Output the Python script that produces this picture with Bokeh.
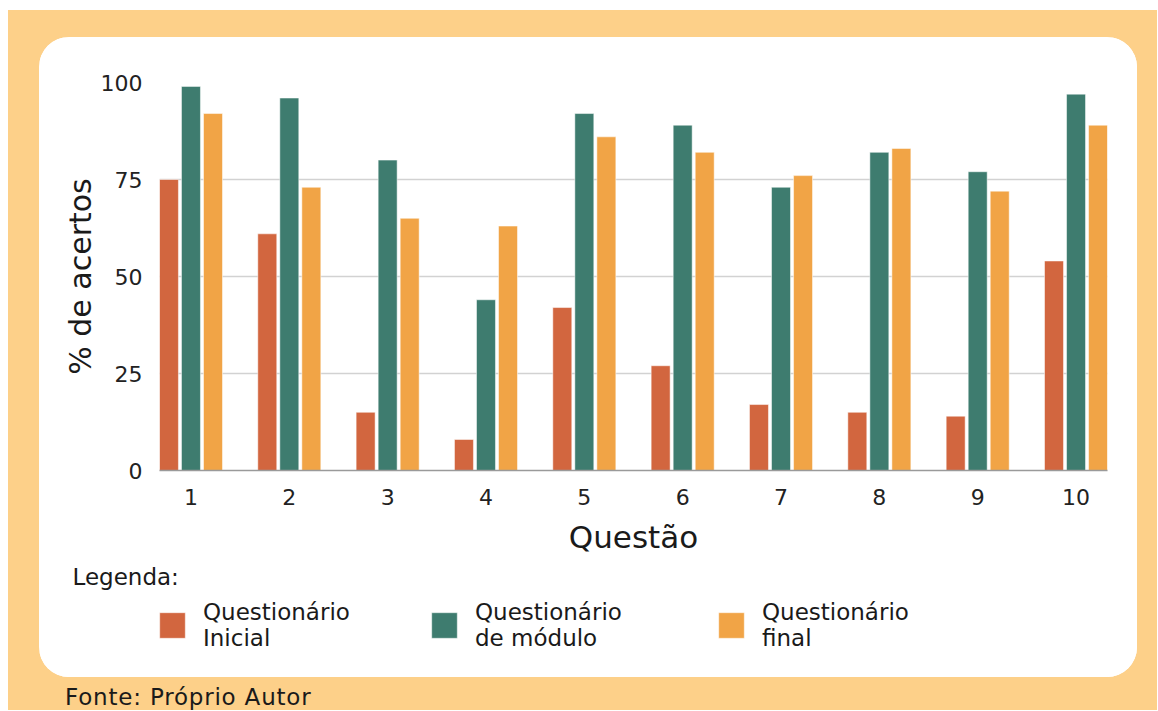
from bokeh.plotting import figure
from bokeh.models import (ColumnDataSource, FixedTicker, Legend, LegendItem,
                          Range1d, Title, Div, Column)
from bokeh.transform import dodge
from bokeh.embed import file_html
from bokeh.resources import INLINE

questoes = [1, 2, 3, 4, 5, 6, 7, 8, 9, 10]
inicial = [75, 61, 15, 8, 42, 27, 17, 15, 14, 54]
modulo = [99, 96, 80, 44, 92, 89, 73, 82, 77, 97]
final = [92, 73, 65, 63, 86, 82, 76, 83, 72, 89]
y_ticks = [0, 25, 50, 75, 100]
series_cols = ["inicial", "modulo", "final"]
series_labels = ["Questionário\nInicial", "Questionário\nde módulo", "Questionário\nfinal"]
series_colors = ["#D2663F", "#3E7C6F", "#F1A446"]

C_BG = "#FDD089"
FONT_W = "DejaVu Sans"
TXT = "#1a1a1a"

src = ColumnDataSource(dict(q=questoes, inicial=inicial, modulo=modulo, final=final))
offsets = [-0.224, 0.0, 0.224]
bw = 0.193

# ---- main chart -------------------------------------------------------
p = figure(width=1098, height=558, output_backend="svg", toolbar_location=None,
           x_range=Range1d(0.68, 10.32), y_range=Range1d(0, 100),
           min_border_left=120, min_border_right=30, min_border_top=45,
           min_border_bottom=125)
p.border_fill_color = "white"
p.background_fill_color = "white"
p.outline_line_color = None

for col, off, c in zip(series_cols, offsets, series_colors):
    p.vbar(x=dodge("q", off), top=col, width=bw, source=src,
           fill_color=c, line_color="white", line_alpha=0.5, line_width=1)

p.xaxis.ticker = FixedTicker(ticks=questoes)
p.yaxis.ticker = FixedTicker(ticks=y_ticks)
for ax in (p.xaxis[0], p.yaxis[0]):
    ax.major_tick_line_color = None
    ax.minor_tick_line_color = None
    ax.major_tick_out = 0
    ax.major_tick_in = 0
    ax.minor_tick_out = 0
    ax.minor_tick_in = 0
    ax.major_label_text_font = FONT_W
    ax.major_label_text_font_size = "22px"
    ax.major_label_text_color = "#222222"
    ax.axis_label_text_font = FONT_W
    ax.axis_label_text_font_style = "normal"
    ax.axis_label_text_color = TXT
p.xaxis.axis_label = "Questão"
p.yaxis.axis_label = "% de acertos"
p.xaxis.axis_label_text_font_size = "31px"
p.yaxis.axis_label_text_font_size = "30px"
p.yaxis.axis_line_color = None
p.xaxis.axis_line_color = "#9a9a9a"
p.xaxis.axis_line_width = 1.5
p.xaxis.major_label_standoff = 18
p.xaxis.axis_label_standoff = 11
p.yaxis.major_label_standoff = 17
p.yaxis.axis_label_standoff = 0

p.xgrid.grid_line_color = None
p.ygrid.grid_line_color = "#d2d2d2"
p.ygrid.grid_line_width = 1.5

p.add_layout(Title(text="Legenda:", align="left", offset=-87, standoff=9,
                   text_font=FONT_W, text_font_size="23px",
                   text_font_style="normal", text_color=TXT), "below")

# ---- legend strip (its range hides the bars; only the legend shows) -----
lp = figure(width=1098, height=82, output_backend="svg", toolbar_location=None,
            x_range=p.x_range, y_range=Range1d(200, 300),
            x_axis_type=None, y_axis_type=None,
            min_border=0, min_border_left=0, min_border_right=0,
            min_border_top=0, min_border_bottom=0)
lp.border_fill_color = "white"
lp.background_fill_color = "white"
lp.outline_line_color = None
lp.xgrid.visible = False
lp.ygrid.visible = False

for col, off, lab, c, lx in zip(series_cols, offsets, series_labels,
                                series_colors, (-3, 269, 556)):
    r = lp.vbar(x=dodge("q", off), top=col, width=bw, source=src,
                fill_color=c, line_color="white", line_alpha=0.5, line_width=1)
    lg = Legend(items=[LegendItem(label=lab, renderers=[r])],
                location=(lx, 26), orientation="vertical",
                glyph_width=32, glyph_height=32, label_standoff=15,
                label_text_font=FONT_W, label_text_font_size="23px",
                label_text_color=TXT, label_text_line_height=1.18,
                padding=0, margin=0, border_line_color=None,
                background_fill_alpha=0)
    lp.add_layout(lg, "center")

panel = Column(children=[p, lp], width=1098, height=640, spacing=0,
               margin=(27, 0, 0, 31),
               styles={"background-color": "white", "border-radius": "30px",
                       "overflow": "hidden"})

fonte = Div(text="Fonte: Próprio Autor", margin=(6, 0, 0, 57),
            styles={"font-family": "'DejaVu Sans'", "font-size": "23px",
                    "letter-spacing": "0.8px", "color": TXT,
                    "line-height": "1.3"})

layout = Column(children=[panel, fonte], width=1149, height=700,
                margin=(10, 0, 0, 8), spacing=0,
                styles={"background-color": C_BG})

open("out.html", "w").write(file_html(layout, INLINE))
